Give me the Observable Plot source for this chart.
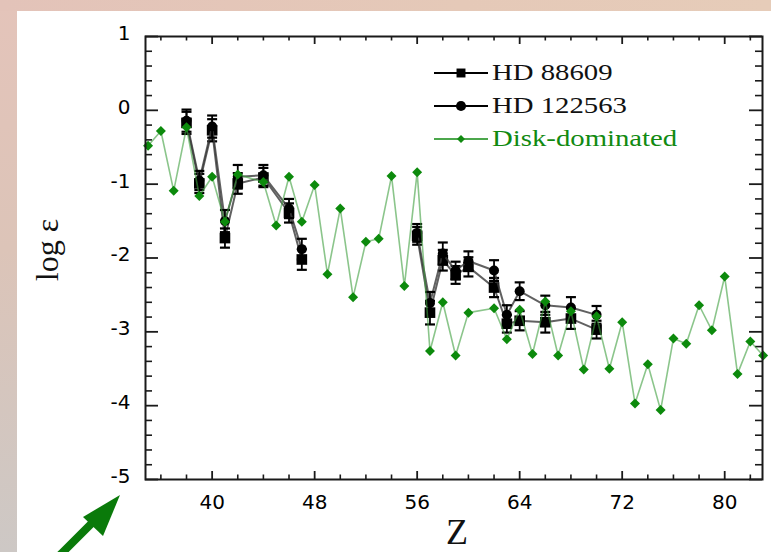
<!DOCTYPE html>
<html>
<head>
<meta charset="utf-8">
<script src="https://cdn.jsdelivr.net/npm/d3@7"></script>
<script src="https://cdn.jsdelivr.net/npm/@observablehq/plot@0.6"></script>
<style>
  html, body { margin: 0; padding: 0; }
  body { width: 771px; height: 552px; position: relative; overflow: hidden;
         background: linear-gradient(180deg, #e4c4ba 0%, #dcc4b8 45%, #cdc8c5 100%); }
  #topband { position: absolute; left: 0; top: 0; width: 771px; height: 11px;
             background: linear-gradient(90deg, #e3c3b9 0%, #e5c9b8 60%, #e6ccb9 100%); }
  #panel { position: absolute; left: 17px; top: 11px; right: 0; bottom: 0; background: #fff; }
  #chart { position: absolute; left: 0; top: 0; }
  .lab { position: absolute; font-family: "Liberation Serif", "Times New Roman", serif; color: #111; white-space: nowrap; }
  #legend { position: absolute; left: 432px; top: 56px; }
  .lrow { position: relative; height: 33px; display: flex; align-items: center; }
  .lrow span { display: inline-block; font-family: "Liberation Serif", serif; font-size: 23px;
               transform: scaleX(1.25); transform-origin: left center; margin-left: 2px; }
  #arrow { position: absolute; left: 0; top: 0; }
</style>
</head>
<body>
<div id="topband"></div>
<div id="panel"></div>
<div id="chart"></div>
<div id="legend"></div>
<div class="lab" id="ylab" style="left:47px; top:250px; font-size:32px; transform: translate(-50%,-50%) rotate(-90deg);">log ε</div>
<div class="lab" id="xlab" style="left:457px; top:532px; font-size:36px; transform: translate(-50%,-50%);">Z</div>
<svg id="arrow" width="771" height="552">
  <line x1="56" y1="559" x2="100" y2="515" stroke="#0a7a0a" stroke-width="8"/>
  <polygon points="120,495 83,517 103,536" fill="#0a7a0a"/>
</svg>
<script>
// ---------- data ----------
const diskZ = [35,36,37,38,39,40,41,42,44,45,46,47,48,49,50,51,52,53,54,55,56,57,58,59,60,
               62,63,64,65,66,67,68,69,70,71,72,73,74,75,76,77,78,79,80,81,82,83];
const diskLogEps = [-0.48,-0.28,-1.09,-0.23,-1.16,-0.90,-1.51,-0.87,
                    -0.97,-1.56,-0.90,-1.51,-1.01,-2.22,-1.33,-2.53,-1.78,-1.74,-0.89,-2.38,-0.84,-3.26,-2.60,-3.32,-2.74,
                    -2.68,-3.10,-2.70,-3.30,-2.59,-3.32,-2.72,-3.51,-2.79,-3.50,-2.87,-3.97,-3.44,-4.06,-3.09,-3.16,-2.64,-2.98,-2.25,-3.57,-3.13,-3.32];

const starZ = [38,39,40,41,42,44,46,47,56,57,58,59,60,62,63,64,66,68,70];
const starSegment = [1,1,1,1,1,1,1,1,2,2,2,2,2,2,2,2,2,2,2];
const hd88609 = [-0.17,-0.99,-0.27,-1.73,-0.99,-0.91,-1.39,-2.02,-1.70,-2.74,-2.03,-2.23,-2.12,-2.40,-2.89,-2.85,-2.87,-2.82,-2.97];
const hd88609Err = [0.15,0.13,0.15,0.13,0.14,0.13,0.13,0.14,0.12,0.16,0.14,0.12,0.13,0.13,0.12,0.13,0.14,0.14,0.12];
const hd122563 = [-0.14,-0.95,-0.22,-1.50,-0.90,-0.88,-1.33,-1.88,-1.66,-2.61,-1.94,-2.17,-2.04,-2.17,-2.77,-2.45,-2.64,-2.67,-2.77];
const hd122563Err = [0.15,0.13,0.15,0.15,0.16,0.14,0.13,0.14,0.12,0.15,0.15,0.12,0.13,0.14,0.13,0.12,0.13,0.14,0.12];

const xMajorTicks = [40,48,56,64,72,80];
const xTickLabels = ["40","48","56","64","72","80"];
const xMinorTicks = [36,38,42,44,46,50,52,54,58,60,62,66,68,70,74,76,78,82];
const yMajorTicks = [1,0,-1,-2,-3,-4,-5];
const yTickLabels = ["1","0","-1","-2","-3","-4","-5"];
const yMinorTicks = [0.8,0.6,0.4,0.2,-0.2,-0.4,-0.6,-0.8,-1.2,-1.4,-1.6,-1.8,-2.2,-2.4,-2.6,-2.8,
                     -3.2,-3.4,-3.6,-3.8,-4.2,-4.4,-4.6,-4.8];

const seriesNames = ["HD 88609","HD 122563","Disk-dominated"];
const seriesColors = ["#000000","#000000","#118a11"];

// ---------- tables ----------
const disk = diskZ.map((z,i) => ({z, v: diskLogEps[i]}));
const s1 = starZ.map((z,i) => ({z, v: hd88609[i], e: hd88609Err[i], seg: starSegment[i]}));
const s2 = starZ.map((z,i) => ({z, v: hd122563[i], e: hd122563Err[i], seg: starSegment[i]}));

// ---------- layout ----------
const W = 771, H = 552;
const mL = 145, mR = 9, mT = 36, mB = 73;
const innerW = W - mL - mR, innerH = H - mT - mB;
const xFmt = d => xTickLabels[xMajorTicks.indexOf(d)];
const yFmt = d => yTickLabels[yMajorTicks.indexOf(d)];

const capSymbol = { draw(ctx, size) { const w = Math.sqrt(size / Math.PI); ctx.moveTo(-w, 0); ctx.lineTo(w, 0); } };
const tickCol = "#1a1a1a";

function starMarks(data, symbol, r) {
  return [
    Plot.line(data, {x: "z", y: "v", z: "seg", stroke: "#3a3a3a", strokeWidth: 2, strokeOpacity: 0.8}),
    Plot.ruleX(data, {x: "z", y1: d => d.v - d.e, y2: d => d.v + d.e, stroke: "#000", strokeWidth: 1.8}),
    Plot.dot(data, {x: "z", y: d => d.v + d.e, symbol: capSymbol, r: 5, stroke: "#000", fill: "none", strokeWidth: 2.2}),
    Plot.dot(data, {x: "z", y: d => d.v - d.e, symbol: capSymbol, r: 5, stroke: "#000", fill: "none", strokeWidth: 2.2}),
    Plot.dot(data, {x: "z", y: "v", symbol, r, fill: "#000", stroke: "none"})
  ];
}

const chart = Plot.plot({
  width: W, height: H,
  marginLeft: mL, marginRight: mR, marginTop: mT, marginBottom: mB,
  style: {background: "transparent", fontFamily: "DejaVu Sans", fontSize: "20px", color: "#000", overflow: "visible"},
  x: {domain: [34.8, 82.95], axis: null},
  y: {domain: [-5, 1], axis: null},
  marks: [
    Plot.tickX(xMajorTicks, {x: d => d, insetTop: innerH - 8, stroke: tickCol, strokeWidth: 1.8}),
    Plot.tickX(xMinorTicks, {x: d => d, insetTop: innerH - 4.5, stroke: tickCol, strokeWidth: 1.6}),
    Plot.tickX(xMajorTicks, {x: d => d, insetBottom: innerH - 8, stroke: tickCol, strokeWidth: 1.8}),
    Plot.tickX(xMinorTicks, {x: d => d, insetBottom: innerH - 4.5, stroke: tickCol, strokeWidth: 1.6}),
    Plot.tickY(yMajorTicks, {y: d => d, insetRight: innerW - 13, stroke: tickCol, strokeWidth: 1.8}),
    Plot.tickY(yMinorTicks, {y: d => d, insetRight: innerW - 7, stroke: tickCol, strokeWidth: 1.6}),
    Plot.tickY(yMajorTicks, {y: d => d, insetLeft: innerW - 13, stroke: tickCol, strokeWidth: 1.8}),
    Plot.tickY(yMinorTicks, {y: d => d, insetLeft: innerW - 7, stroke: tickCol, strokeWidth: 1.6}),
    Plot.axisX(xMajorTicks, {tickSize: 0, tickPadding: 15, tickFormat: xFmt, label: null, fontSize: 20, fill: "#000"}),
    Plot.axisY(yMajorTicks, {tickSize: 0, tickPadding: 15, tickFormat: yFmt, label: null, fontSize: 20, fill: "#000", dy: -3}),
    ...starMarks(s1, "square", 6),
    ...starMarks(s2, "circle", 5),
    Plot.line(disk, {x: "z", y: "v", stroke: "#3d9e3d", strokeOpacity: 0.6, strokeWidth: 1.6}),
    Plot.dot(disk, {x: "z", y: "v", symbol: "diamond2", r: 4.5, fill: "#0c8a0c", stroke: "none"}),
    Plot.frame({stroke: "#1a1a1a", strokeWidth: 2})
  ]
});
document.getElementById("chart").appendChild(chart);

// ---------- legend ----------
const legend = document.getElementById("legend");
const legendSymbols = ["square","circle","diamond2"];
seriesNames.forEach((name, i) => {
  const row = document.createElement("div");
  row.className = "lrow";
  const sw = d3.create("svg").attr("width", 58).attr("height", 20);
  sw.append("line").attr("x1", 2).attr("x2", 56).attr("y1", 10).attr("y2", 10)
    .attr("stroke", seriesColors[i]).attr("stroke-width", i === 2 ? 1.6 : 2);
  const symType = {square: d3.symbolSquare, circle: d3.symbolCircle, diamond2: d3.symbolDiamond2}[legendSymbols[i]];
  sw.append("path").attr("transform", "translate(29,10)")
    .attr("d", d3.symbol(symType, i === 2 ? 40 : 80)()).attr("fill", seriesColors[i]);
  row.appendChild(sw.node());
  const t = document.createElement("span");
  t.textContent = name;
  t.style.color = i === 2 ? "#118a11" : "#111";
  row.appendChild(t);
  legend.appendChild(row);
});
</script>
</body>
</html>
